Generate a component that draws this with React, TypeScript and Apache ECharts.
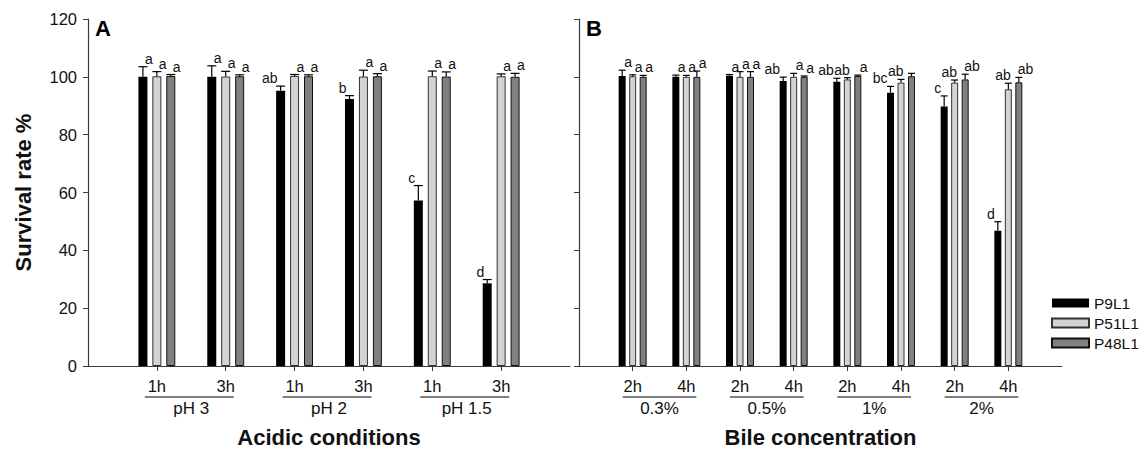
import React, { useEffect, useRef } from "react";
import * as echarts from "echarts";

// ---------- data ----------
const seriesNames = ["P9L1", "P51L1", "P48L1"];

const acidCats = ["1h", "3h", "1h", "3h", "1h", "3h"];
const acidGroups = ["pH 3", "pH 2", "pH 1.5"];
const acidP9 = [100, 100, 95.2, 92.3, 57.2, 28.6];
const acidP9Err = [3.5, 3.8, 1.6, 1.2, 5.2, 1.3];
const acidP51 = [100.2, 100.1, 100.3, 100.1, 100.2, 100.2];
const acidP51Err = [1.6, 1.8, 0.5, 2.2, 1.8, 0.8];
const acidP48 = [100.3, 100.2, 100.2, 100.2, 100.1, 100.0];
const acidP48Err = [0.5, 0.5, 0.5, 0.9, 1.6, 1.2];
const acidP9Lbl = ["a", "a", "ab", "b", "c", "d"];
const acidP51Lbl = ["a", "a", "a", "a", "a", "a"];
const acidP48Lbl = ["a", "a", "a", "a", "a", "a"];

const bileCats = ["2h", "4h", "2h", "4h", "2h", "4h", "2h", "4h"];
const bileGroups = ["0.3%", "0.5%", "1%", "2%"];
const bileP9 = [100.3, 100, 100.4, 98.6, 98.3, 94.5, 89.7, 46.8];
const bileP9Err = [2, 0.6, 0.4, 1.3, 1.2, 2.2, 3.7, 3.1];
const bileP51 = [100.2, 100, 100, 100, 99.1, 98, 98, 95.7];
const bileP51Err = [0.5, 0.5, 1.8, 1.2, 0.6, 1.1, 0.9, 2.1];
const bileP48 = [100, 100, 100, 100, 100.3, 100.2, 99.1, 98.1];
const bileP48Err = [0.5, 2, 1.8, 0.3, 0.3, 1, 1.8, 1.7];
const bileP9Lbl = ["a", "a", "a", "ab", "ab", "bc", "c", "d"];
const bileP51Lbl = ["a", "a", "a", "a", "ab", "ab", "ab", "ab"];
const bileP48Lbl = ["a", "a", "a", "a", "a", "", "ab", "ab"];

const yTicks = [0, 20, 40, 60, 80, 100, 120];

// ---------- style ----------
const FONT = "'Liberation Sans', Arial, Helvetica, sans-serif";
const AXIS = "#3a3a3a";
const fills = ["#000000", "#d3d3d3", "#808080"];
const borders = ["#000000", "#333333", "#111111"];

function padCats(c: string[]) {
  return ["", ...c, ""];
}
function padVals(v: number[]) {
  return ["-", ...v, "-"];
}

function errRender(seriesIdx: number, pitch: number, capW: number, labels: string[]) {
  const offset = (seriesIdx - 1) * pitch;
  return (params: any, api: any) => {
    const x = api.value(0);
    const v = api.value(1);
    const e = api.value(2);
    const base = api.coord([x, v]);
    const top = api.coord([x, v + e]);
    const cx = base[0] + offset;
    const lbl = labels[params.dataIndex];
    let align = "left";
    let dx = 2;
    if (lbl !== "a") {
      if (seriesIdx === 0) { align = "right"; dx = -3; }
      else if (seriesIdx === 1) { align = "right"; dx = 2.5; }
      else { align = "left"; dx = -1; }
    }
    const children: any[] = [
      { type: "line", shape: { x1: cx, y1: base[1], x2: cx, y2: top[1] }, style: { stroke: "#000", lineWidth: 1.2 } },
      { type: "line", shape: { x1: cx - capW / 2, y1: top[1], x2: cx + capW / 2, y2: top[1] }, style: { stroke: "#000", lineWidth: 1.2 } },
    ];
    if (lbl) {
      children.push({
        type: "text",
        x: cx + dx,
        y: top[1] - 1,
        style: { text: lbl, fill: "#111", fontSize: 14, fontFamily: FONT, align, verticalAlign: "bottom" },
      });
    }
    return { type: "group", children };
  };
}

function groupRender(groups: string[], left: number, right: number) {
  return (params: any, api: any) => {
    const a = api.coord([api.value(0), 0]);
    const b = api.coord([api.value(1), 0]);
    const y0 = a[1];
    const mid = (a[0] + b[0]) / 2;
    return {
      type: "group",
      children: [
        { type: "line", shape: { x1: a[0] - left, y1: y0 + 31, x2: b[0] + right, y2: y0 + 31 }, style: { stroke: "#555", lineWidth: 1.5 } },
        {
          type: "text",
          x: mid,
          y: y0 + 42,
          style: { text: groups[params.dataIndex], fill: "#111", fontSize: 17, fontFamily: FONT, align: "center", verticalAlign: "middle" },
        },
      ],
    };
  };
}

function buildPanel(
  gi: number,
  groups: string[],
  vals: number[][],
  errs: number[][],
  lbls: string[][],
  barW: number,
  gapPct: number,
  ulLeft: number,
  ulRight: number
) {
  const pitch = barW * (1 + gapPct / 100);
  const series: any[] = [];
  vals.forEach((v, si) => {
    series.push({
      type: "bar",
      name: seriesNames[si],
      xAxisIndex: gi,
      yAxisIndex: gi,
      data: padVals(v),
      barWidth: barW,
      barGap: gapPct + "%",
      itemStyle: { color: fills[si], borderColor: borders[si], borderWidth: si === 0 ? 0 : 1 },
      emphasis: { disabled: true },
    });
  });
  vals.forEach((v, si) => {
    series.push({
      type: "custom",
      name: "err" + gi + si,
      xAxisIndex: gi,
      yAxisIndex: gi,
      clip: false,
      z: 5,
      renderItem: errRender(si, pitch, barW, lbls[si]),
      data: v.map((val, i) => [i + 1, val, errs[si][i]]),
    });
  });
  series.push({
    type: "custom",
    name: "groups" + gi,
    xAxisIndex: gi,
    yAxisIndex: gi,
    clip: false,
    renderItem: groupRender(groups, ulLeft, ulRight),
    data: groups.map((_, k) => [2 * k + 1, 2 * k + 2]),
  });
  return series;
}

function xAxisFor(gi: number, cats: string[], name: string) {
  const full = padCats(cats);
  const last = full.length - 1;
  return {
    type: "category",
    gridIndex: gi,
    data: full,
    boundaryGap: false,
    name,
    nameLocation: "middle",
    nameGap: 60,
    nameTextStyle: { fontSize: 22, fontWeight: "bold", fontFamily: FONT, color: "#111" },
    axisLine: { lineStyle: { color: AXIS, width: 1.2 } },
    axisTick: {
      show: true,
      length: 5,
      interval: (i: number) => i > 0 && i < last,
      lineStyle: { color: AXIS },
    },
    axisLabel: { interval: 0, fontSize: 16.5, fontFamily: FONT, color: "#111", margin: 11 },
    splitLine: { show: false },
  };
}

function yAxisFor(gi: number, showLabels: boolean) {
  return {
    type: "value",
    gridIndex: gi,
    min: yTicks[0],
    max: yTicks[yTicks.length - 1],
    interval: yTicks[1] - yTicks[0],
    name: showLabels ? "Survival rate %" : "",
    nameLocation: "middle",
    nameGap: 54,
    nameRotate: 90,
    nameTextStyle: { fontSize: 22, fontWeight: "bold", fontFamily: FONT, color: "#111" },
    axisLine: { show: true, lineStyle: { color: AXIS, width: 1.2 } },
    axisTick: { show: true, length: 5, lineStyle: { color: AXIS } },
    axisLabel: { show: showLabels, fontSize: 16.5, fontFamily: FONT, color: "#111", margin: 11 },
    splitLine: { show: false },
  };
}

export default function App() {
  const ref = useRef<HTMLDivElement>(null);
  useEffect(() => {
    if (!ref.current) return;
    const chart = echarts.init(ref.current, undefined, { renderer: "svg" });
    const series = [
      ...buildPanel(
        0, acidGroups,
        [acidP9, acidP51, acidP48],
        [acidP9Err, acidP51Err, acidP48Err],
        [acidP9Lbl, acidP51Lbl, acidP48Lbl],
        9, 55, 12, 8
      ),
      ...buildPanel(
        1, bileGroups,
        [bileP9, bileP51, bileP48],
        [bileP9Err, bileP51Err, bileP48Err],
        [bileP9Lbl, bileP51Lbl, bileP48Lbl],
        7, 50, 10, 10
      ),
    ];
    chart.setOption({
      animation: false,
      backgroundColor: "#ffffff",
      textStyle: { fontFamily: FONT },
      grid: [
        { left: 88, top: 19, width: 482, height: 347, outerBoundsMode: "none", containLabel: false },
        { left: 579, top: 19, width: 483, height: 347, outerBoundsMode: "none", containLabel: false },
      ],
      xAxis: [
        xAxisFor(0, acidCats, "Acidic conditions"),
        xAxisFor(1, bileCats, "Bile concentration"),
      ],
      yAxis: [yAxisFor(0, true), yAxisFor(1, false)],
      legend: {
        data: seriesNames,
        orient: "vertical",
        left: 1046,
        top: 290,
        itemWidth: 37,
        itemHeight: 9,
        itemGap: 4,
        icon: "rect",
        selectedMode: false,
        textStyle: { fontSize: 15.5, fontFamily: FONT, color: "#111" },
      },
      graphic: [
        { type: "text", left: 95, top: 17, style: { text: "A", fontSize: 22, fontWeight: "bold", fontFamily: FONT, fill: "#000" } },
        { type: "text", left: 586, top: 17, style: { text: "B", fontSize: 22, fontWeight: "bold", fontFamily: FONT, fill: "#000" } },
      ],
      series,
    });
    return () => chart.dispose();
  }, []);
  return (
    <div
      ref={ref}
      style={{ position: "absolute", left: 0, top: 0, width: 1144, height: 449 }}
    />
  );
}
